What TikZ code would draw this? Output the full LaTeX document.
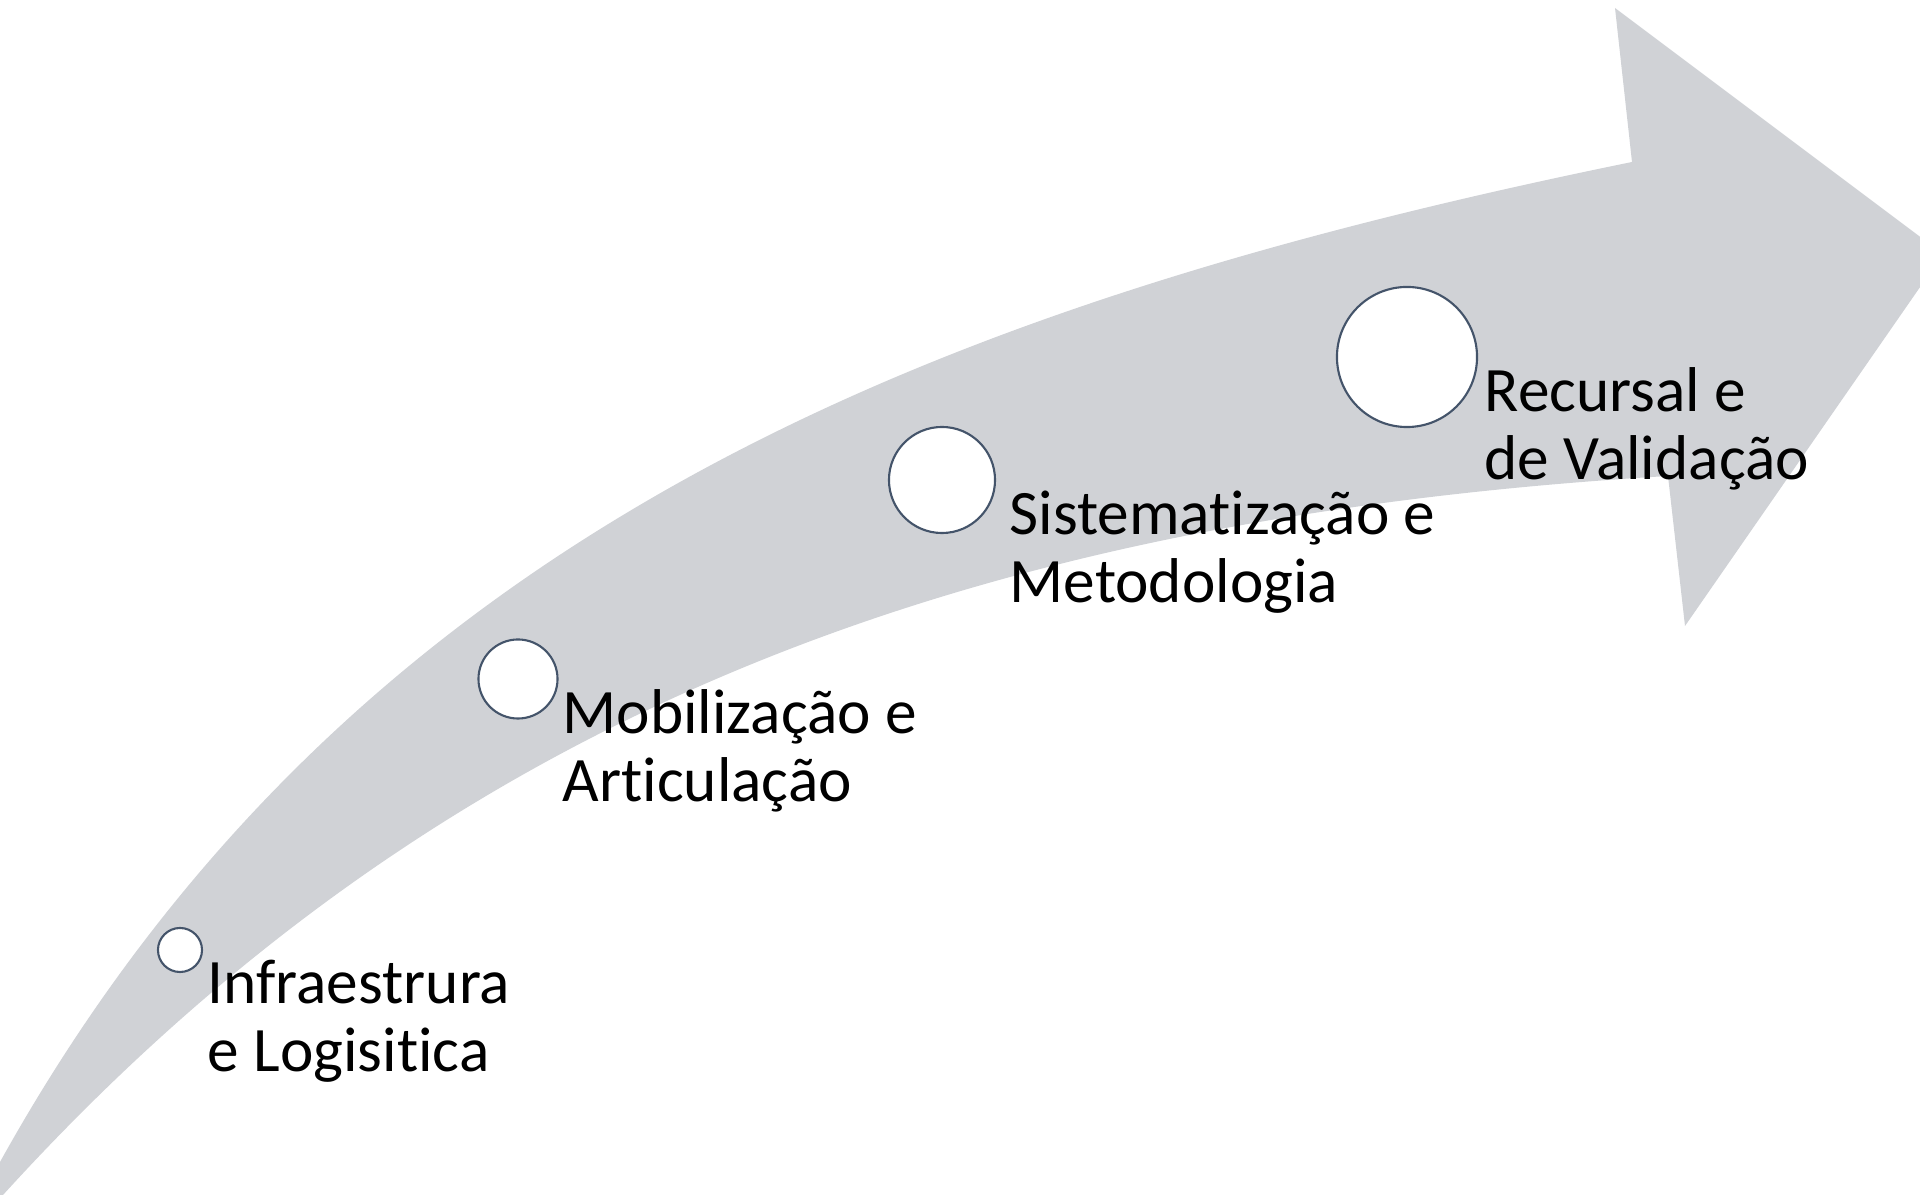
\documentclass[tikz,border=0pt]{standalone}
\usepackage{fontspec}
\setmainfont{Carlito}[Ligatures=NoCommon]
\usepackage{xcolor}
\usepackage{tikz}
\usetikzlibrary{positioning}

\definecolor{bandgray}{RGB}{208,210,214}
\definecolor{ringblue}{RGB}{68,84,106}

\begin{document}
\begin{tikzpicture}[x=0.01cm,y=-0.01cm,font=\fontsize{18}{19.4}\selectfont,
    stage/.style={circle,draw=ringblue,fill=white,line width=0.6pt,inner sep=0pt},
    steptext/.style={anchor=base west,align=left,inner sep=0pt}]
    \useasboundingbox (0,0) rectangle (1920,1195);
    \clip (0,0) rectangle (1920,1195);
    % curved band with arrow head
    \fill[bandgray] (0,1162) .. controls (350,532) and (932,305) .. (1632,162)
      -- (1615,8) -- (1943,254) -- (1685,626) -- (1668,476)
      .. controls (968,518) and (443,711) .. (3,1195)
      -- (0,1195) -- cycle;
    \foreach \id/\x/\y/\d in {1/180/950/4.4,2/518/679/7.9,3/942/480/10.6,4/1407/357/14.0} {
      \node[stage,minimum size=\d mm] (c\id) at (\x,\y) {};
    }
    \foreach \id/\x/\y/\txt in {1/207/1072/{Infraestrura\\e Logisitica},2/562/802/{Mobilização e\\Articulação},3/1009/603/{Sistematização e\\Metodologia},4/1484/480/{Recursal e\\de Validação}} {
      \node[steptext] (t\id) at (\x,\y) {\txt};
    }
\end{tikzpicture}
\end{document}
